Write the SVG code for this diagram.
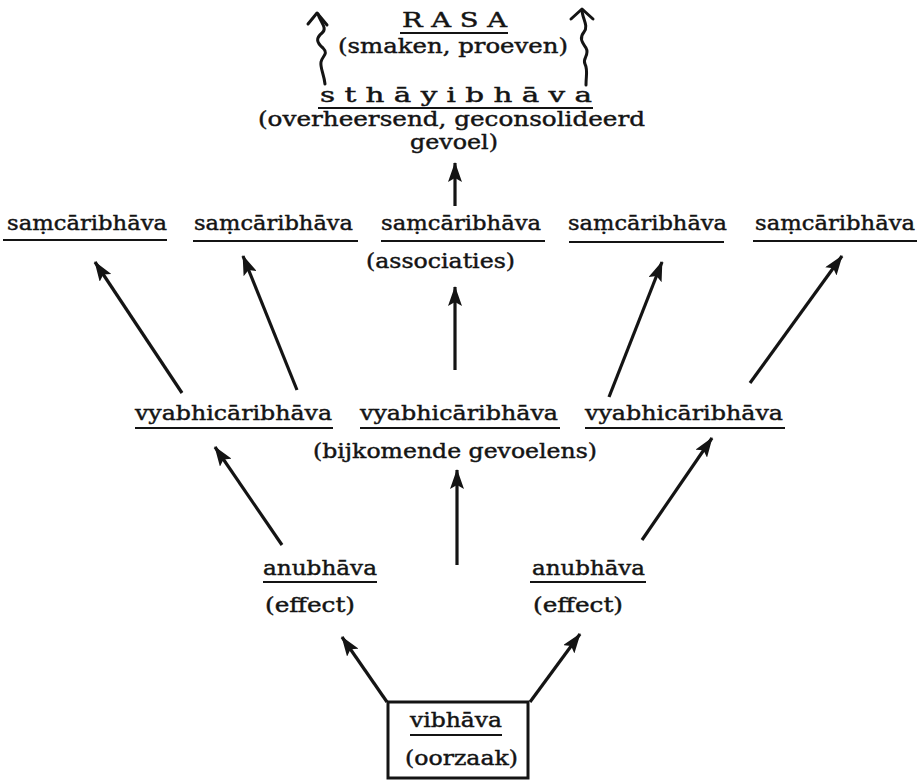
<svg xmlns="http://www.w3.org/2000/svg" width="924" height="782" viewBox="0 0 924 782">
<defs>
<style>
text{font-family:"DejaVu Serif","Liberation Serif",serif;font-size:21px;fill:#141414;stroke:#141414;stroke-width:0.45}
.ul{stroke:#141414;stroke-width:2;fill:none}
.ar{stroke:#141414;stroke-width:3.2;fill:none;marker-end:url(#ah)}
.wv{stroke:#141414;stroke-width:3;fill:none;stroke-linecap:round;stroke-linejoin:round}
.box{stroke:#141414;stroke-width:3;fill:none}
</style>
<marker id="ah" viewBox="0 0 20 14" refX="19" refY="7" markerWidth="20" markerHeight="14" markerUnits="userSpaceOnUse" orient="auto">
<path d="M0,0 L20,7 L0,14 L4,7 Z" fill="#141414"/>
</marker>
</defs>
<rect width="924" height="782" fill="#fff"/>
<g id="connectors">
<line class="ar" x1="455" y1="206" x2="455" y2="163"/>
<line class="ar" x1="182" y1="393" x2="95" y2="262"/>
<line class="ar" x1="297" y1="390" x2="243" y2="256"/>
<line class="ar" x1="455" y1="370" x2="455" y2="287"/>
<line class="ar" x1="609" y1="397" x2="662" y2="262"/>
<line class="ar" x1="750" y1="383" x2="842" y2="256"/>
<line class="ar" x1="282" y1="545" x2="215" y2="447"/>
<line class="ar" x1="457" y1="565" x2="457" y2="470"/>
<line class="ar" x1="642" y1="540" x2="712" y2="438"/>
<line class="ar" x1="387" y1="702" x2="342" y2="637"/>
<line class="ar" x1="530" y1="702" x2="580" y2="634"/>
<path class="wv" d="M325 84 C324 74,320 68,321 62 C322 56,329 54,323 48 C316 42,316 38,322 33 C328 28,320 22,318 14"/>
<path class="wv" d="M308 24 L317 13 L327 25"/>
<path class="wv" d="M586 85 C586 75,588 70,585 64 C582 58,590 55,586 48 C582 42,579 38,584 32 C589 26,582 18,582 10"/>
<path class="wv" d="M571 19 L582 9 L593 19"/>
</g>
<g id="rasa">
<text x="402" y="27" textLength="105" lengthAdjust="spacingAndGlyphs">R A S A</text>
<line class="ul" x1="400" y1="33" x2="508" y2="33"/>
<text x="338" y="53" textLength="230" lengthAdjust="spacingAndGlyphs">(smaken, proeven)</text>
</g>
<g id="sthayibhava">
<text x="320" y="102" textLength="272" lengthAdjust="spacingAndGlyphs">s t h ā y i b h ā v a</text>
<line class="ul" x1="318" y1="108" x2="593" y2="108"/>
<text x="258" y="126" font-size="20" textLength="387" lengthAdjust="spacingAndGlyphs">(overheersend, geconsolideerd</text>
<text x="410" y="149" textLength="88" lengthAdjust="spacingAndGlyphs">gevoel)</text>
</g>
<g id="samcari1">
<text x="7" y="230" textLength="160" lengthAdjust="spacingAndGlyphs">saṃcāribhāva</text>
<line class="ul" x1="3" y1="240" x2="167" y2="240"/>
</g>
<g id="samcari2">
<text x="194" y="230" textLength="159" lengthAdjust="spacingAndGlyphs">saṃcāribhāva</text>
<line class="ul" x1="193" y1="241" x2="358" y2="241"/>
</g>
<g id="samcari3">
<text x="381" y="230" textLength="160" lengthAdjust="spacingAndGlyphs">saṃcāribhāva</text>
<line class="ul" x1="381" y1="241" x2="545" y2="241"/>
<text x="366" y="268" textLength="149" lengthAdjust="spacingAndGlyphs">(associaties)</text>
</g>
<g id="samcari4">
<text x="568" y="230" textLength="159" lengthAdjust="spacingAndGlyphs">saṃcāribhāva</text>
<line class="ul" x1="569" y1="242" x2="724" y2="242"/>
</g>
<g id="samcari5">
<text x="755" y="230" textLength="160" lengthAdjust="spacingAndGlyphs">saṃcāribhāva</text>
<line class="ul" x1="753" y1="241" x2="917" y2="241"/>
</g>
<g id="vyabhi1">
<text x="135" y="420" textLength="197" lengthAdjust="spacingAndGlyphs">vyabhicāribhāva</text>
<line class="ul" x1="135" y1="428" x2="333" y2="428"/>
</g>
<g id="vyabhi2">
<text x="360" y="420" textLength="198" lengthAdjust="spacingAndGlyphs">vyabhicāribhāva</text>
<line class="ul" x1="360" y1="428" x2="560" y2="428"/>
<text x="313" y="458" textLength="284" lengthAdjust="spacingAndGlyphs">(bijkomende gevoelens)</text>
</g>
<g id="vyabhi3">
<text x="585" y="420" textLength="198" lengthAdjust="spacingAndGlyphs">vyabhicāribhāva</text>
<line class="ul" x1="585" y1="428" x2="785" y2="428"/>
</g>
<g id="anubhava1">
<text x="263" y="575" textLength="114" lengthAdjust="spacingAndGlyphs">anubhāva</text>
<line class="ul" x1="263" y1="582" x2="377" y2="582"/>
<text x="265" y="612" textLength="90" lengthAdjust="spacingAndGlyphs">(effect)</text>
</g>
<g id="anubhava2">
<text x="532" y="575" textLength="113" lengthAdjust="spacingAndGlyphs">anubhāva</text>
<line class="ul" x1="530" y1="582" x2="646" y2="582"/>
<text x="533" y="612" textLength="90" lengthAdjust="spacingAndGlyphs">(effect)</text>
</g>
<g id="vibhava">
<rect class="box" x="388" y="702" width="140" height="76"/>
<text x="410" y="727" textLength="92" lengthAdjust="spacingAndGlyphs">vibhāva</text>
<line class="ul" x1="410" y1="735" x2="502" y2="735"/>
<text x="405" y="765" textLength="113" lengthAdjust="spacingAndGlyphs">(oorzaak)</text>
</g>
</svg>
